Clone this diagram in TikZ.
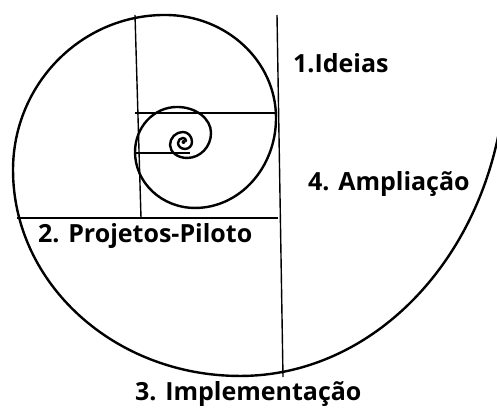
\documentclass[tikz,border=0pt]{standalone}
\usepackage{fontspec}
\setmainfont{Open Sans}
\tikzset{
  spiral/.style={line width=2.4pt, line cap=round, line join=round},
  guide/.style={line width=1.4pt},
  lbl/.style={anchor=base west, inner sep=0pt, font=\fontsize{25}{25}\selectfont\bfseries}
}
\begin{document}
\begin{tikzpicture}[x=1pt,y=-1pt]
\useasboundingbox (0,0) rectangle (497,409);
\clip (0,0) rectangle (497,409);
% guide lines
\draw[guide] (135,15) -- (141,218);
\draw[guide] (277,15) -- (283,377);
\draw[guide] (17,218) -- (278,218);
\draw[guide] (135,113) -- (276,113);
\draw[guide] (136,153) -- (190,153);
% spiral
\draw[spiral] (505,87.5)
  arc[start angle=-5, end angle=-90, x radius=266pt, y radius=316pt]
  arc[start angle=-90, end angle=-180, x radius=227pt, y radius=206pt]
  arc[start angle=180, end angle=90, x radius=152pt, y radius=155pt]
  arc[start angle=90, end angle=0, x radius=111pt, y radius=103pt]
  arc[start angle=0, end angle=-90, x radius=81pt, y radius=90pt]
  arc[start angle=-90, end angle=-180, x radius=60pt, y radius=56pt]
  arc[start angle=180, end angle=90, x radius=42pt, y radius=45pt]
  arc[start angle=90, end angle=0, x radius=34pt, y radius=26pt]
  arc[start angle=0, end angle=-90, x radius=24pt, y radius=25pt]
  arc[start angle=-90, end angle=-180, x radius=17pt, y radius=13pt]
  arc[start angle=180, end angle=90, x radius=13pt, y radius=13pt]
  arc[start angle=90, end angle=0, x radius=9pt, y radius=10pt]
  arc[start angle=0, end angle=-90, x radius=7pt, y radius=7pt]
  arc[start angle=-90, end angle=-180, x radius=7pt, y radius=6pt]
  arc[start angle=180, end angle=90, x radius=5pt, y radius=5pt]
  arc[start angle=90, end angle=0, x radius=3pt, y radius=3pt];
\fill (183.5,142) circle[radius=2pt];
% labels
\node[lbl] (ideias) at (293,73) {1.Ideias};
\node[lbl] (ampl) at (308,190) {4. Ampliação};
\node[lbl] (piloto) at (38,242) {2. Projetos-Piloto};
\node[lbl] (impl) at (135,400) {3. Implementação};
\end{tikzpicture}
\end{document}
